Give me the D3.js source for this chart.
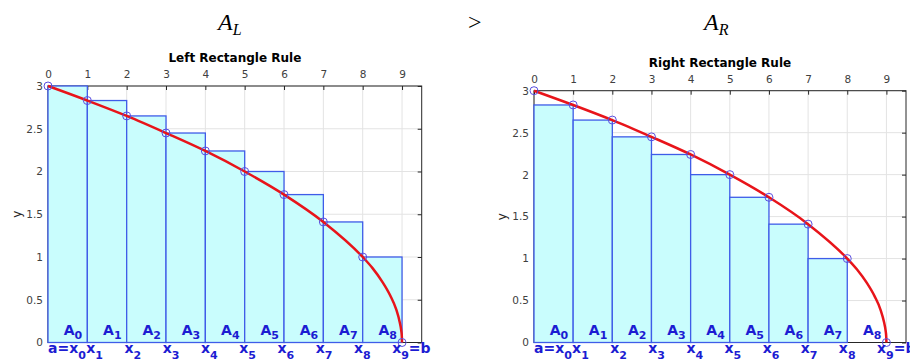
<!DOCTYPE html>
<html>
<head>
<meta charset="utf-8">
<script src="https://cdn.jsdelivr.net/npm/d3@7"></script>
<style>
  html, body { margin: 0; padding: 0; background: #fff; }
  svg { display: block; }
</style>
</head>
<body>
<svg id="chart" width="910" height="360"></svg>
<script>
// ---- data ----
const xNodes = [0, 1, 2, 3, 4, 5, 6, 7, 8, 9];
const yNodes = [3, 2.83, 2.65, 2.45, 2.24, 2.0, 1.73, 1.41, 1.0, 0];
const curveX = [0, 1, 2, 3, 4, 5, 6, 7, 8, 8.25, 8.5, 8.7, 8.85, 8.94, 8.98, 8.995, 9];
const curveY = [3, 2.83, 2.65, 2.45, 2.24, 2.0, 1.73, 1.41, 1.0, 0.87, 0.71, 0.55, 0.39, 0.24, 0.14, 0.07, 0];
const xTicks = [0, 1, 2, 3, 4, 5, 6, 7, 8, 9];
const yTicks = [0, 0.5, 1, 1.5, 2, 2.5, 3];
const yTickLabels = ["0", "0.5", "1", "1.5", "2", "2.5", "3"];
const areaLabels = ["0", "1", "2", "3", "4", "5", "6", "7", "8"];
const nodeLabels = ["0", "1", "2", "3", "4", "5", "6", "7", "8", "9"];
const titles = ["Left Rectangle Rule", "Right Rectangle Rule"];

const svg = d3.select("#chart");
const FONT = "'DejaVu Sans', sans-serif";
const BLUE_TXT = "#1c1cd2";

// ---- big header ----
function mathLabel(x, y, sub) {
  const t = svg.append("text").attr("x", x).attr("y", y)
    .attr("font-family", "'Liberation Serif', serif").attr("font-style", "italic")
    .attr("font-size", 24).attr("fill", "#000");
  t.append("tspan").text("A");
  t.append("tspan").attr("dy", 5).attr("font-size", 16).text(sub);
}
mathLabel(218, 30, "L");
mathLabel(704, 30, "R");
svg.append("text").attr("x", 468).attr("y", 30)
  .attr("font-family", "'Liberation Serif', serif").attr("font-size", 24).text(">");

const panels = [
  { left: 48, right: 421.7, top: 86, bottom: 342.5, mode: "left", title: titles[0],
    yLabelX: 18, drift: 1.1 },
  { left: 534, right: 906, top: 90.7, bottom: 342.5, mode: "right", title: titles[1],
    yLabelX: 503, drift: 1.05 }
];

panels.forEach(p => {
  const x = d3.scaleLinear().domain([0, 9.5]).range([p.left, p.right]);
  const y = d3.scaleLinear().domain([0, 3]).range([p.bottom, p.top]);
  const g = svg.append("g");

  // grid
  g.append("g").selectAll("line").data(xTicks).join("line")
    .attr("x1", d => x(d)).attr("x2", d => x(d))
    .attr("y1", p.top).attr("y2", p.bottom)
    .attr("stroke", "#e3e3e3").attr("stroke-width", 1);
  g.append("g").selectAll("line").data(yTicks).join("line")
    .attr("x1", p.left).attr("x2", p.right)
    .attr("y1", d => y(d)).attr("y2", d => y(d))
    .attr("stroke", "#e3e3e3").attr("stroke-width", 1);

  // box
  g.append("rect").attr("x", p.left).attr("y", p.top)
    .attr("width", p.right - p.left).attr("height", p.bottom - p.top)
    .attr("fill", "none").attr("stroke", "#262626").attr("stroke-width", 1);

  // top axis
  const topAxis = d3.axisTop(x).tickValues(xTicks).tickFormat(d3.format("d"))
    .tickSizeInner(-4).tickSizeOuter(0).tickPadding(8);
  const ta = g.append("g").attr("transform", `translate(0,${p.top})`).call(topAxis);
  ta.select(".domain").remove();
  ta.selectAll("line").attr("stroke", "#262626");
  ta.selectAll("text").attr("font-family", FONT).attr("font-size", 10.5).attr("fill", "#404040");

  // left axis labels
  const leftAxis = d3.axisLeft(y).tickValues(yTicks).tickFormat((d, i) => yTickLabels[i])
    .tickSize(0).tickPadding(5);
  const la = g.append("g").attr("transform", `translate(${p.left},0)`).call(leftAxis);
  la.select(".domain").remove();
  la.selectAll("text").attr("font-family", FONT).attr("font-size", 10.5).attr("fill", "#404040");

  // right axis ticks
  const rightAxis = d3.axisLeft(y).tickValues(yTicks).tickFormat("").tickSizeInner(4).tickSizeOuter(0);
  const ra = g.append("g").attr("transform", `translate(${p.right},0)`).call(rightAxis);
  ra.select(".domain").remove();
  ra.selectAll("line").attr("stroke", "#262626");

  // y label
  g.append("text").attr("transform", `translate(${p.yLabelX + 3},${(p.top + p.bottom) / 2}) rotate(-90)`)
    .attr("text-anchor", "middle").attr("font-family", FONT).attr("font-size", 12)
    .attr("fill", "#262626").text("y");

  // title
  g.append("text").attr("x", (p.left + p.right) / 2).attr("y", p.top - 24)
    .attr("text-anchor", "middle").attr("font-family", FONT).attr("font-weight", "bold")
    .attr("font-size", 12).attr("fill", "#000").text(p.title);

  // rectangles
  const rects = d3.range(9).map(i => ({
    x0: xNodes[i], x1: xNodes[i + 1],
    h: p.mode === "left" ? yNodes[i] : yNodes[i + 1]
  }));
  g.append("g").selectAll("rect").data(rects).join("rect")
    .attr("x", d => x(d.x0)).attr("width", d => x(d.x1) - x(d.x0))
    .attr("y", d => y(d.h)).attr("height", d => y(0) - y(d.h))
    .attr("fill", "#c9fdfd").attr("stroke", "#3f5ce8").attr("stroke-width", 1.3);

  // curve
  const pts = curveX.map((cx, i) => [cx, curveY[i]]);
  g.append("path").datum(pts)
    .attr("d", d3.line().x(d => x(d[0])).y(d => y(d[1])).curve(d3.curveMonotoneX))
    .attr("fill", "none").attr("stroke", "#e8141a").attr("stroke-width", 2.5);

  // nodes
  g.append("g").selectAll("circle").data(xNodes).join("circle")
    .attr("cx", d => x(d)).attr("cy", (d, i) => y(yNodes[i]))
    .attr("r", 4).attr("fill", "none").attr("stroke", "#5a4ee0").attr("stroke-width", 1);

  // area labels
  const al = g.append("g").selectAll("text").data(areaLabels).join("text")
    .attr("x", (d, i) => x(xNodes[i] + 0.4)).attr("y", p.bottom - 8)
    .attr("font-family", FONT).attr("font-weight", "bold").attr("font-size", 14)
    .attr("fill", BLUE_TXT);
  al.append("tspan").text("A");
  al.append("tspan").attr("dy", 4).attr("font-size", 11).text(d => d);

  // node labels
  const nl = g.append("g").selectAll("text").data(nodeLabels).join("text")
    .attr("x", (d, i) => x(xNodes[i]) - i * p.drift).attr("y", p.bottom + 10)
    .attr("font-family", FONT).attr("font-weight", "bold").attr("font-size", 14)
    .attr("fill", BLUE_TXT);
  nl.append("tspan").text((d, i) => i === 0 ? "a=x" : "x");
  nl.append("tspan").attr("dy", 6).attr("font-size", 11).text(d => d);
  nl.append("tspan").attr("dy", -6).text((d, i) => i === nodeLabels.length - 1 ? "=b" : "");
});
</script>
</body>
</html>
